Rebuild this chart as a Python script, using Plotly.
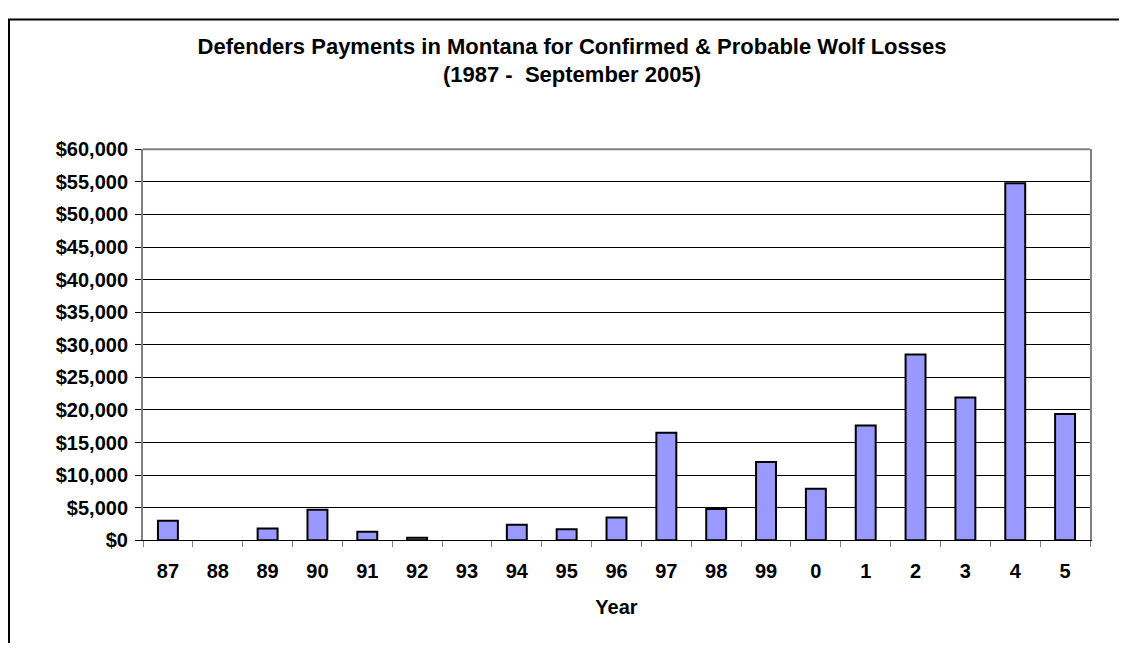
import plotly.graph_objects as go

years = ["87", "88", "89", "90", "91", "92", "93", "94", "95", "96",
         "97", "98", "99", "0", "1", "2", "3", "4", "5"]
payments = [3000, 0, 1800, 4700, 1300, 400, 0, 2400, 1700, 3500,
            16500, 4800, 12000, 7900, 17600, 28500, 21900, 54800, 19400]

# The page body has an 8px margin, so the figure is drawn 8px in from the
# window's corner; size it so that it fits the 1127x651 window.
OFF = 8
W, H = 1127 - 2 * OFF, 651 - 2 * OFF


def fx(px):
    return (px - OFF) / W


def fy(py):
    return 1 - (py - OFF) / H


PL, PR, PT, PB = 143, 1090, 143, 548
FONT = "Arial, Liberation Sans, sans-serif"

outline = [0 if v == 0 else 2 for v in payments]

fig = go.Figure(go.Bar(
    x=years, y=payments,
    width=0.4,
    marker=dict(color="#9999FF", line=dict(color="black", width=outline)),
))

fig.update_layout(
    width=W, height=H,
    margin=dict(l=0, r=0, t=0, b=0),
    paper_bgcolor="white", plot_bgcolor="white",
    showlegend=False,
    font=dict(family=FONT, color="black", size=18, weight="bold"),
    title=dict(
        text="Defenders Payments in Montana for Confirmed & Probable Wolf Losses<br>(1987 -  September 2005)",
        x=fx(572), xanchor="center", xref="paper",
        y=fy(44), yanchor="top", yref="paper",
        font=dict(family=FONT, size=22, color="black", weight="bold"),
    ),
    xaxis=dict(
        domain=[fx(PL), fx(PR)],
        type="category",
        showline=True, linecolor="black", linewidth=1,
        ticks="outside", tickson="boundaries", ticklen=6, tickcolor="#808080", tickwidth=1,
        showgrid=False,
        tickfont=dict(size=20, weight="bold"),
        ticklabelstandoff=13,
        title=dict(text="Year", standoff=18, font=dict(size=20, weight="bold")),
    ),
    yaxis=dict(
        domain=[fy(PB), fy(PT)],
        range=[0, 60000], dtick=5000, tick0=0,
        tickprefix="$", tickformat=",d",
        showline=True, linecolor="#808080", linewidth=2, mirror=True,
        ticks="outside", ticklen=6, tickcolor="black", tickwidth=1,
        showgrid=True, gridcolor="black", gridwidth=1,
        zeroline=False,
        tickfont=dict(size=20, weight="bold"),
        ticklabelstandoff=3,
    ),
    shapes=[
        dict(type="line", xref="paper", yref="paper",
             x0=fx(PL), x1=fx(PR), y0=fy(PT), y1=fy(PT),
             line=dict(color="#808080", width=2)),
        dict(type="rect", xref="paper", yref="paper",
             x0=fx(9), x1=1.02, y0=-0.05, y1=fy(8.5),
             line=dict(color="black", width=2)),
    ],
)

fig.write_html("out.html")
